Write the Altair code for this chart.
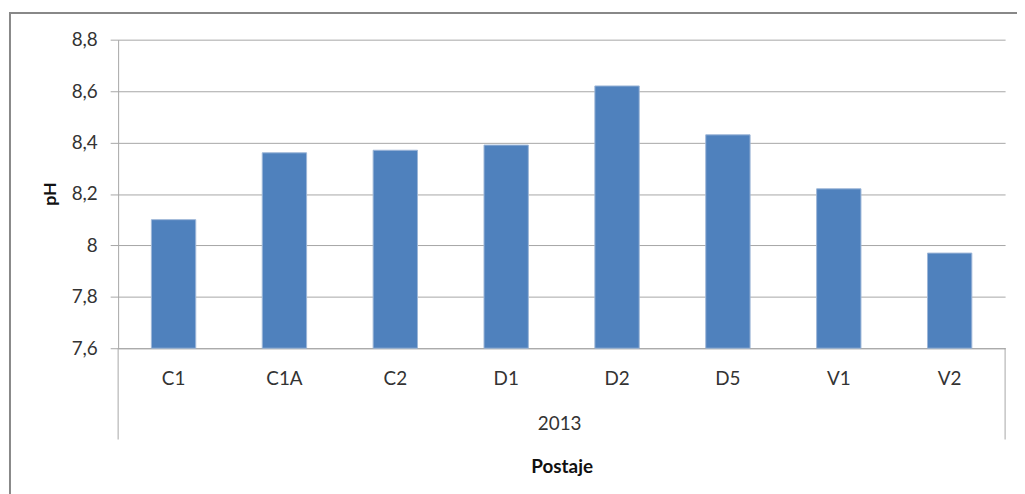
import altair as alt
import pandas as pd

categories = ["C1", "C1A", "C2", "D1", "D2", "D5", "V1", "V2"]
ph_values = [8.10, 8.36, 8.37, 8.39, 8.62, 8.43, 8.22, 7.97]
y_ticks = [7.6, 7.8, 8.0, 8.2, 8.4, 8.6, 8.8]
group_label = "2013"
x_title = "Postaje"
y_title = "pH"

df = pd.DataFrame({"Postaje": categories, "pH": ph_values, "base": [7.6] * len(categories)})
one = pd.DataFrame({"a": [0]})

W, H = 894, 311
FONT = "Lato"
GRID = "#a6a6a6"
TXT = "#333333"

bars = alt.Chart(df).mark_bar(color="#4F81BD", stroke="#9DB6D8", strokeWidth=1).encode(
    x=alt.X(
        "Postaje:N", sort=categories,
        scale=alt.Scale(paddingInner=0.6, paddingOuter=0.3),
        axis=alt.Axis(
            title=x_title, ticks=False, tickSize=0, labelPadding=31, labelBaseline="middle",
            labelAngle=0, labelFont=FONT, labelFontSize=19, labelColor=TXT,
            domainColor=GRID, domainWidth=1,
            titleFont=FONT, titleFontSize=19, titleFontWeight="bold", titleColor="#111111",
            titleY=119, titleX=W / 2, titleBaseline="middle", titleAlign="center",
        ),
    ),
    y=alt.Y(
        "pH:Q",
        scale=alt.Scale(domain=[7.6, 8.8], zero=False, nice=False),
        axis=alt.Axis(
            values=y_ticks,
            labelExpr="datum.value == 8 ? '8' : replace(format(datum.value, '.1f'), '.', ',')",
            tickSize=8, tickColor=GRID, labelPadding=13, labelFont=FONT, labelFontSize=19,
            labelColor=TXT, grid=True, gridColor=GRID, gridWidth=1, domainColor=GRID,
            title=y_title, titleFont=FONT, titleFontSize=18, titleFontWeight="bold",
            titleColor="#111111", titleX=-68, titleY=155, titleAlign="center",
            titleBaseline="middle", titleAngle=270,
        ),
    ),
    y2="base:Q",
)

ext_left = alt.Chart(one).mark_rule(color=GRID, strokeWidth=1).encode(
    x=alt.value(0), y=alt.value(H), y2=alt.value(403))
ext_right = alt.Chart(one).mark_rule(color=GRID, strokeWidth=1).encode(
    x=alt.value(W), y=alt.value(H), y2=alt.value(403))

frame_left = alt.Chart(one).mark_rule(color="#888888", strokeWidth=2).encode(
    x=alt.value(-109), y=alt.value(-27), y2=alt.value(470))
frame_top = alt.Chart(one).mark_rule(color="#888888", strokeWidth=2).encode(
    x=alt.value(-110), x2=alt.value(920), y=alt.value(-27))

group_text = alt.Chart(pd.DataFrame({"label": [group_label]})).mark_text(
    font=FONT, fontSize=19, color=TXT, baseline="middle", align="center").encode(
    text="label:N", x=alt.value(W / 2 - 2), y=alt.value(387))

chart = alt.layer(frame_left, frame_top, bars, ext_left, ext_right, group_text).properties(
    width=W, height=H,
    autosize=alt.AutoSizeParams(type="none"),
    padding={"left": 111, "top": 30, "right": 12, "bottom": 145},
    background="white",
).configure_view(stroke=None)

chart.save("out.html", embed_options={"renderer": "svg", "actions": False})
